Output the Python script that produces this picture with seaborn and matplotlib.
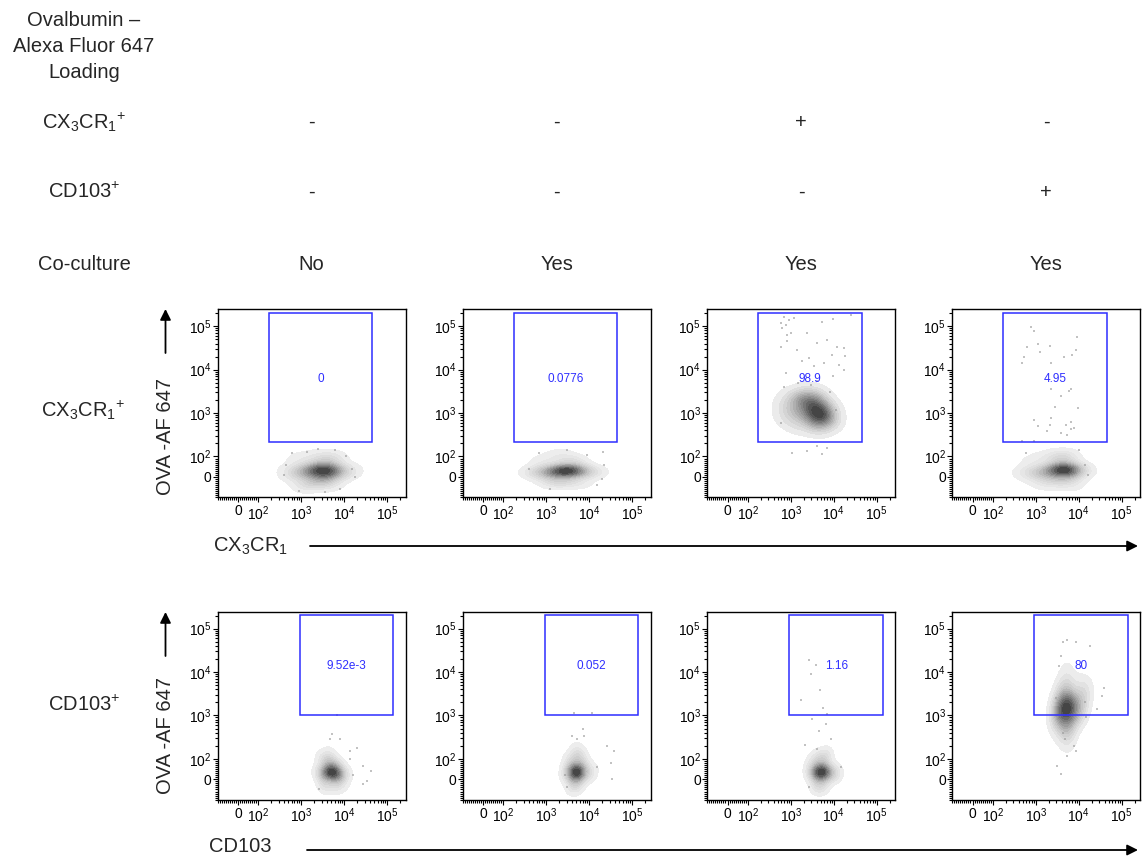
import numpy as np
import seaborn as sns
import matplotlib.pyplot as plt
from matplotlib.colors import LinearSegmentedColormap
from matplotlib.patches import Rectangle, FancyArrowPatch

# ---------------- data ----------------
coculture = ['No', 'Yes', 'Yes', 'Yes']
cx3cr1_added = ['-', '-', '+', '-']
cd103_added = ['-', '-', '-', '+']

gate_pct_row1 = ['0', '0.0776', '98.9', '4.95']
gate_pct_row2 = ['9.52e-3', '0.052', '1.16', '80']

# gate bounds (raw fluorescence): x0, x1, y0, y1 ; label height
gate_row1 = [175, 45000, 215, 205000]
gate_row2 = [920, 140000, 1000, 205000]
gate_label_y = [6200, 13500]

major_vals = [0, 100, 1000, 10000, 100000]
major_labels = ['0', '$10^2$', '$10^3$', '$10^4$', '$10^5$']

# main cell clouds: anchor positions (raw) and weights
r1c1_x = [550, 800, 1100, 1500, 2000, 2600, 3300, 4200, 5200, 7000, 10000, 14000, 1600, 2800, 4000, 2200, 3600, 900, 6000, 1200, 5000]
r1c1_y = [30, 10, 40, 20, 30, 45, 25, 40, 20, 30, 15, 30, -30, -20, 90, 100, -10, 90, 90, -45, -40]
r1c1_w = [1, 2, 2, 3, 4, 4, 5, 5, 4, 2, 1, 1, 2, 2, 2, 1, 3, 1, 1, 1, 1]

r1c2_x = [500, 750, 1000, 1400, 1900, 2500, 3200, 4000, 5000, 6500, 9000, 13000, 1500, 2700, 3800, 900, 6000, 2000]
r1c2_y = [20, 30, 10, 30, 20, 35, 25, 40, 20, 30, 20, 25, -25, -20, 80, 80, -30, 110]
r1c2_w = [1, 2, 2, 3, 4, 5, 5, 4, 3, 2, 1, 1, 2, 2, 2, 1, 1, 1]

r1c3_x = [700, 700, 1000, 1000, 1000, 1500, 1500, 1500, 2200, 2200, 2200, 3200, 3200, 3200, 3200,
          4500, 4500, 4500, 4500, 6500, 6500, 6500, 9000, 9000, 2500, 5000]
r1c3_y = [1500, 800, 2300, 1200, 600, 2000, 1000, 500, 2300, 1500, 800, 2300, 1500, 900, 500,
          2000, 1200, 800, 500, 1500, 900, 600, 1200, 700, 3200, 2800]
r1c3_w = [1, 1, 1, 2, 1, 3, 2, 1, 2, 3, 2, 2, 3, 3, 2, 2, 4, 4, 2, 2, 4, 2, 1, 1, 1, 1]

r1c4_x = [550, 800, 1100, 1500, 2000, 2700, 3500, 4300, 5200, 6500, 8500, 12000, 3800, 4800, 1500, 2500, 5000, 900, 7000, 2000]
r1c4_y = [20, 30, 10, 30, 20, 35, 40, 30, 40, 30, 25, 30, 90, 100, -30, -20, -10, 80, -40, 100]
r1c4_w = [1, 1, 2, 2, 3, 3, 4, 6, 6, 4, 2, 1, 2, 2, 1, 2, 3, 1, 1, 1]

r2c1_x = [2800, 3500, 4200, 5000, 6000, 7000, 8500, 11000, 4000, 5500, 7500, 3500, 6000, 4500, 3000, 9000]
r2c1_y = [30, 20, 40, 30, 40, 20, 30, 30, 90, 80, 70, -30, -30, 130, 100, -20]
r2c1_w = [2, 3, 5, 6, 5, 4, 2, 1, 2, 2, 1, 2, 2, 1, 1, 1]

r2c2_x = [3000, 3800, 4500, 5200, 6000, 7000, 9000, 12000, 4500, 6000, 4000, 5500, 7500, 3200, 5000]
r2c2_y = [30, 40, 30, 40, 30, 40, 30, 40, 100, 110, -30, -25, 90, 90, 160]
r2c2_w = [2, 4, 6, 6, 5, 3, 2, 1, 2, 2, 2, 2, 1, 1, 1]

r2c3_x = [3000, 3800, 4500, 5300, 6200, 7500, 9500, 12000, 4500, 6000, 4000, 5500, 3200, 7000]
r2c3_y = [40, 30, 40, 30, 40, 30, 30, 30, 100, 100, -30, -30, 90, 130]
r2c3_w = [2, 4, 6, 6, 5, 3, 2, 1, 2, 2, 2, 2, 1, 1]

r2c4_x = [3500, 4500, 5500, 7000, 4000, 5500, 7000, 9000, 4500, 6000, 8000, 5000, 6500, 4000, 5500, 12000, 5000,
          6000, 3200, 11000, 3200, 10000, 14000, 3000, 15000]
r2c4_y = [1000, 1200, 1500, 1300, 2000, 2500, 2000, 1800, 600, 700, 900, 400, 450, 4000, 5000, 3000, 10000,
          250, 1800, 1200, 600, 5000, 2000, 1000, 4000]
r2c4_w = [3, 5, 6, 4, 4, 4, 3, 2, 3, 3, 2, 2, 1, 2, 2, 2, 1, 1, 3, 3, 1, 1, 1, 2, 1]

# sparse events (raw)
r1c1_sx = [400, 450, 15000, 18000, 2500, 6000, 900, 600, 11000, 3500, 1400, 8000]
r1c1_sy = [10, 60, 40, 0, 150, 140, -70, 120, 100, -75, 130, -60]

r1c2_sx = [21000, 22000, 20000, 400, 700, 1200, 9000, 15000, 3000]
r1c2_sy = [125, 60, -10, 40, 120, -60, 110, -40, 140]

r1c3_sx = [690, 910, 760, 1170, 630, 1000, 830, 580, 9800, 5400, 24500, 2400, 4100, 7100, 12000, 17000,
           18600, 9100, 1400, 830, 580, 1860, 3500, 5900, 13200, 17000, 2600, 9800, 760, 4100, 1070, 5400,
           4100, 7100, 2400, 700, 1500, 3000, 8000, 11000, 600]
r1c3_sy = [166000, 141000, 107000, 155000, 91000, 69000, 63000, 117000, 145000, 123000, 182000, 69000,
           41000, 49000, 34000, 32000, 20400, 21900, 29000, 45000, 34000, 15500, 12000, 14100, 12900, 10000,
           18600, 7100, 8300, 5400, 123, 112, 174, 158, 135, 4000, 5000, 4500, 3000, 1200, 600]

r1c4_sx = [760, 890, 630, 520, 490, 1100, 2200, 1260, 2300, 9100, 8500, 7100, 4500, 6500, 5900, 3800,
           2800, 9800, 890, 2300, 6500, 1100, 2200, 5000, 6500, 7900, 5400, 3800, 1800, 490, 890, 2300,
           14000, 16000, 600, 10000]
r1c4_sy = [98000, 76000, 34000, 20000, 14000, 40000, 35000, 25000, 14000, 56000, 28000, 22000, 20000,
           3500, 3200, 2500, 1400, 1300, 710, 790, 630, 500, 520, 520, 420, 460, 320, 350, 380, 230, 230, 3500,
           60, 10, 120, 140]

r2c1_sx = [5200, 4800, 8100, 13800, 20000, 28000, 41000, 34000, 28000, 13800, 6800, 2600, 16000]
r2c1_sy = [365, 280, 280, 150, 180, 65, 40, -8, -24, 98, 1050, -50, 20]

r2c2_sx = [4400, 11700, 4000, 5200, 7100, 7600, 26000, 37000, 32000, 34000, 3100, 15000, 2700]
r2c2_sy = [1150, 1170, 330, 280, 480, 330, 195, 150, 81, 0, -40, 60, 20]

r2c3_sx = [2600, 3800, 4900, 1700, 3200, 6500, 8500, 2200, 4000, 3000, 5500, 4500, 7000, 15000, 2600]
r2c3_sy = [19000, 14800, 3900, 2300, 810, 620, 280, 210, 170, 9000, 1500, 450, 1100, 60, -40]

r2c4_sx = [4200, 5400, 8500, 18600, 3800, 3500, 38000, 35000, 27000, 4200, 4800, 7800, 8500, 5400, 3800, 3200,
           2900, 14000, 15000]
r2c4_sy = [50000, 54000, 50000, 39000, 23000, 13500, 4300, 2750, 1380, 400, 280, 195, 150, 115, 24, 65,
           2500, 2000, 900]

# ---------------- scale ----------------
A = 0.47  # width of the linear (0..100) segment in decade units


def biex(v):
    v = np.asarray(v, dtype=float)
    av = np.abs(v)
    lin = v / 100.0 * A
    logp = np.sign(v) * (A + np.log10(np.maximum(av, 100.0) / 100.0))
    return np.where(av <= 100, lin, logp)


minor_vals = ([-v for v in range(10, 101, 10)] + list(range(10, 100, 10)) +
              [m * 10 ** k for k in (2, 3, 4) for m in range(2, 10)] + [200000])

# ---------------- style ----------------
sns.set_theme(style='white')
plt.rcParams['font.family'] = ['Liberation Sans', 'DejaVu Sans']
plt.rcParams['mathtext.fontset'] = 'custom'
plt.rcParams['mathtext.rm'] = 'Liberation Sans'
plt.rcParams['mathtext.it'] = 'Liberation Sans:italic'
plt.rcParams['mathtext.bf'] = 'Liberation Sans:bold'
plt.rcParams['mathtext.default'] = 'rm'

W, H = 1144, 857
fig = plt.figure(figsize=(W / 100, H / 100), dpi=100)


def fx(px):
    return px / W


def fy(py):
    return 1 - py / H


cmap = LinearSegmentedColormap.from_list('flow', ['#f1f1f1', '#c4c4c4', '#858585', '#3c3c3c'])
BLUE = '#2e2eff'

panel_left = [217.7, 462.7, 707.3, 952.3]
panel_bottom = [497.3, 799.7]
PW = 188

clouds = [[(r1c1_x, r1c1_y, r1c1_w), (r1c2_x, r1c2_y, r1c2_w), (r1c3_x, r1c3_y, r1c3_w), (r1c4_x, r1c4_y, r1c4_w)],
          [(r2c1_x, r2c1_y, r2c1_w), (r2c2_x, r2c2_y, r2c2_w), (r2c3_x, r2c3_y, r2c3_w), (r2c4_x, r2c4_y, r2c4_w)]]
sparse = [[(r1c1_sx, r1c1_sy), (r1c2_sx, r1c2_sy), (r1c3_sx, r1c3_sy), (r1c4_sx, r1c4_sy)],
          [(r2c1_sx, r2c1_sy), (r2c2_sx, r2c2_sy), (r2c3_sx, r2c3_sy), (r2c4_sx, r2c4_sy)]]
gates = [gate_row1, gate_row2]
pcts = [gate_pct_row1, gate_pct_row2]

for r in range(2):
    for c in range(4):
        ax = fig.add_axes([fx(panel_left[c]), fy(panel_bottom[r]), PW / W, PW / H])
        cx, cy, cw = clouds[r][c]
        sns.kdeplot(x=biex(cx), y=biex(cy), weights=cw, fill=True, cmap=cmap, levels=14,
                    thresh=0.03, bw_adjust=1.15, ax=ax)
        sx, sy = sparse[r][c]
        sns.scatterplot(x=biex(sx), y=biex(sy), s=3, color='#9a9a9a', alpha=0.6,
                        linewidth=0, marker='s', ax=ax)
        g = gates[r]
        gx0, gx1, gy0, gy1 = biex(g[0]), biex(g[1]), biex(g[2]), biex(g[3])
        ax.add_patch(Rectangle((gx0, gy0), gx1 - gx0, gy1 - gy0, fill=False, ec=BLUE, lw=1.1))
        ax.text((gx0 + gx1) / 2, biex(gate_label_y[r]), pcts[r][c], color=BLUE, ha='center',
                va='center', fontsize=8.5)
        ax.set_xlim(-0.46, 3.90)
        ax.set_ylim(-0.45, 3.86)
        ax.set_xticks(biex(major_vals))
        ax.set_xticklabels(major_labels)
        ax.set_yticks(biex(major_vals))
        ax.set_yticklabels(major_labels)
        ax.set_xticks(biex(minor_vals), minor=True)
        ax.set_yticks(biex(minor_vals), minor=True)
        ax.tick_params(which='both', direction='out', bottom=True, left=True, top=False, right=False,
                       colors='black', labelsize=10, width=0.8)
        ax.tick_params(which='major', length=3.5)
        ax.tick_params(which='minor', length=2)
        ax.tick_params(axis='x', which='major', pad=1.5)
        ax.tick_params(axis='y', which='major', pad=1)
        ax.set_xlabel('')
        ax.set_ylabel('')
        for s in ax.spines.values():
            s.set_color('black')
            s.set_linewidth(1.0)

# ---------------- header text ----------------
HFS = 14.5
CX_LABEL = r'CX$_3$CR$_1$$^{+}$'
CD_LABEL = r'CD103$^{+}$'
fig.text(fx(84), fy(20), 'Ovalbumin –', ha='center', va='center', fontsize=HFS)
fig.text(fx(84), fy(46), 'Alexa Fluor 647', ha='center', va='center', fontsize=HFS)
fig.text(fx(84), fy(72), 'Loading', ha='center', va='center', fontsize=HFS)
fig.text(fx(84), fy(122), CX_LABEL, ha='center', va='center', fontsize=HFS)
fig.text(fx(84), fy(192), CD_LABEL, ha='center', va='center', fontsize=HFS)
fig.text(fx(84), fy(265), 'Co-culture', ha='center', va='center', fontsize=HFS)
for c in range(4):
    xc = panel_left[c] + PW / 2
    fig.text(fx(xc), fy(122), cx3cr1_added[c], ha='center', va='center', fontsize=HFS)
    fig.text(fx(xc), fy(192), cd103_added[c], ha='center', va='center', fontsize=HFS)
    fig.text(fx(xc), fy(265), coculture[c], ha='center', va='center', fontsize=HFS)

fig.text(fx(83), fy(410), CX_LABEL, ha='center', va='center', fontsize=HFS)
fig.text(fx(84), fy(705), CD_LABEL, ha='center', va='center', fontsize=HFS)

# axis labels with arrows
for yc, ya0, ya1 in [(437, 353, 309), (736, 656, 612)]:
    fig.text(fx(165.5), fy(yc), 'OVA -AF 647', rotation=90, ha='center', va='center', fontsize=HFS)
    fig.add_artist(FancyArrowPatch((fx(165.5), fy(ya0)), (fx(165.5), fy(ya1)), transform=fig.transFigure,
                                   arrowstyle='-|>', mutation_scale=16, lw=1.3, color='black',
                                   shrinkA=0, shrinkB=0))

fig.text(fx(251), fy(546), r'CX$_3$CR$_1$', ha='center', va='center', fontsize=HFS)
fig.add_artist(FancyArrowPatch((fx(310), fy(546)), (fx(1138), fy(546)), transform=fig.transFigure,
                               arrowstyle='-|>', mutation_scale=16, lw=1.3, color='black',
                               shrinkA=0, shrinkB=0))
fig.text(fx(240), fy(846), 'CD103', ha='center', va='center', fontsize=HFS)
fig.add_artist(FancyArrowPatch((fx(307), fy(850)), (fx(1138), fy(850)), transform=fig.transFigure,
                               arrowstyle='-|>', mutation_scale=16, lw=1.3, color='black',
                               shrinkA=0, shrinkB=0))

fig.savefig('out.png', dpi=100)
